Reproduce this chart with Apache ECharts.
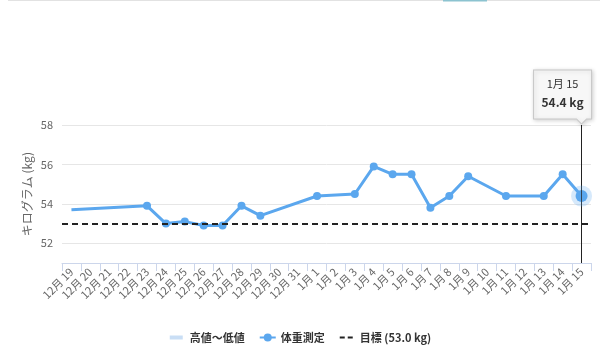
<!DOCTYPE html>
<html>
<head>
<meta charset="utf-8">
<script src="https://cdn.jsdelivr.net/npm/echarts@6/dist/echarts.min.js"></script>
<style>
html,body{margin:0;padding:0;background:#fff;}
#chart{width:600px;height:363px;}
</style>
</head>
<body>
<div id="chart"></div>
<script>
var categories = ['12月 19','12月 20','12月 21','12月 22','12月 23','12月 24','12月 25','12月 26','12月 27','12月 28','12月 29','12月 30','12月 31',
  '1月 1','1月 2','1月 3','1月 4','1月 5','1月 6','1月 7','1月 8','1月 9','1月 10','1月 11','1月 12','1月 13','1月 14','1月 15'];
var weights = [53.7, null, null, null, 53.9, 53.0, 53.1, 52.9, 52.9, 53.9, 53.4, null, null,
  54.4, null, 54.5, 55.9, 55.5, 55.5, 53.8, 54.4, 55.4, null, 54.4, null, 54.4, 55.5, 54.4];
var rangeValues = [];
var targetValue = 53.0;
var yTicks = [52, 54, 56, 58];
var seriesNames = ['高値～低値', '体重測定', '目標 (53.0 kg)'];
var yAxisTitle = 'キログラム (kg)';

var FONT = '"Noto Sans CJK JP", "Noto Sans", sans-serif';
var BLUE = '#5ba7ee';
var lastIdx = categories.length - 1;

var weightData = weights.map(function (v, i) {
  if (i === 0) return { value: v, symbol: 'none' };
  if (i === lastIdx) return { value: v, symbolSize: 12 };
  return v;
});

var ICON_RANGE = 'path://M0,0 L0,0 M16,10 L16,10 M1,3 H14 V7 H1 Z';
var ICON_TARGET = 'path://M0,0 L0,0 M16,10 L16,10 M1,4 H6 V6 H1 Z M9,4 H14 V6 H9 Z';

var chart = echarts.init(document.getElementById('chart'), null, { renderer: 'canvas' });
chart.setOption({
  animation: false,
  backgroundColor: '#fff',
  textStyle: { fontFamily: FONT },
  grid: { left: 62, right: 9, top: 125, bottom: 100, containLabel: false },
  graphic: [
    { type: 'rect', shape: { x: 8, y: 0, width: 592, height: 1 }, style: { fill: '#e2e2e2' }, silent: true },
    { type: 'rect', shape: { x: 443, y: 0, width: 44, height: 1.5 }, style: { fill: '#8cc3d0' }, silent: true }
  ],
  legend: {
    left: 'center',
    top: 327,
    itemWidth: 16,
    itemHeight: 10,
    itemGap: 14,
    symbolKeepAspect: false,
    textStyle: { fontFamily: FONT, fontSize: 11, fontWeight: 'bold', color: '#333' },
    data: [
      { name: seriesNames[0], icon: ICON_RANGE },
      { name: seriesNames[1] },
      { name: seriesNames[2], icon: ICON_TARGET }
    ]
  },
  xAxis: {
    type: 'category',
    data: categories,
    boundaryGap: true,
    axisLine: { lineStyle: { color: '#ccd6eb', width: 1 } },
    axisTick: { show: true, length: 8, interval: 0, lineStyle: { color: '#ccd6eb' } },
    axisLabel: { interval: 0, rotate: 45, margin: 7, color: '#666', fontSize: 11, fontFamily: FONT },
    splitLine: { show: false }
  },
  yAxis: {
    type: 'value',
    min: 51,
    max: 58,
    interval: 1,
    name: yAxisTitle,
    nameLocation: 'middle',
    nameGap: 29,
    nameMoveOverlap: false,
    nameTextStyle: { color: '#666', fontSize: 12, fontFamily: FONT },
    axisLine: { show: false },
    axisTick: { show: false },
    axisLabel: {
      color: '#666', fontSize: 11, margin: 9, fontFamily: FONT,
      formatter: function (v) { return yTicks.indexOf(v) >= 0 ? String(v) : ''; }
    },
    splitLine: { show: true, lineStyle: { color: ['rgba(0,0,0,0)', '#e6e6e6'], width: 1 } }
  },
  series: [
    {
      name: seriesNames[0],
      type: 'line',
      data: rangeValues,
      symbol: 'none',
      color: '#c9def5',
      itemStyle: { color: '#c9def5' },
      lineStyle: { width: 4, color: '#c9def5' }
    },
    {
      name: seriesNames[1],
      type: 'line',
      data: weightData,
      connectNulls: true,
      symbol: 'circle',
      symbolSize: 8,
      showAllSymbol: true,
      color: BLUE,
      itemStyle: { color: BLUE },
      lineStyle: { width: 3, color: BLUE },
      z: 3,
      markLine: {
        silent: true,
        symbol: ['none', 'none'],
        label: { show: false },
        lineStyle: { color: '#222', width: 1, type: 'solid' },
        data: [{ xAxis: categories[lastIdx] }]
      },
      markPoint: {
        silent: true,
        data: [
          {
            coord: [categories[lastIdx], weights[lastIdx]],
            symbol: 'circle',
            symbolSize: 21,
            itemStyle: { color: 'rgba(91,167,238,0.25)' },
            label: { show: false }
          },
          {
            coord: [categories[lastIdx], 58],
            symbol: 'path://M0,0 H58 V49 H53 L48,54 L43,49 H0 Z',
            symbolSize: [58, 54],
            symbolOffset: [-19, -28],
            itemStyle: {
              color: 'rgba(248,248,248,0.97)',
              borderColor: '#c8c8c8',
              borderWidth: 1,
              shadowColor: 'rgba(0,0,0,0.18)',
              shadowBlur: 4,
              shadowOffsetX: 1,
              shadowOffsetY: 1
            },
            label: {
              show: true,
              position: 'inside',
              offset: [0, -4],
              formatter: function () {
                return '{a|' + categories[lastIdx] + '}\n{b|' + weights[lastIdx].toFixed(1) + ' kg}';
              },
              rich: {
                a: { fontFamily: FONT, fontSize: 11, color: '#333', lineHeight: 19, align: 'center' },
                b: { fontFamily: FONT, fontSize: 12, fontWeight: 'bold', color: '#333', lineHeight: 19, align: 'center' }
              }
            }
          }
        ]
      }
    },
    {
      name: seriesNames[2],
      type: 'line',
      data: [],
      symbol: 'none',
      color: '#222',
      itemStyle: { color: '#222' },
      lineStyle: { width: 2, color: '#222', type: [6, 4] },
      markLine: {
        silent: true,
        symbol: ['none', 'none'],
        label: { show: false },
        lineStyle: { color: '#222', width: 2, type: [6, 4] },
        data: [{ yAxis: targetValue }]
      }
    }
  ]
});
</script>
</body>
</html>
